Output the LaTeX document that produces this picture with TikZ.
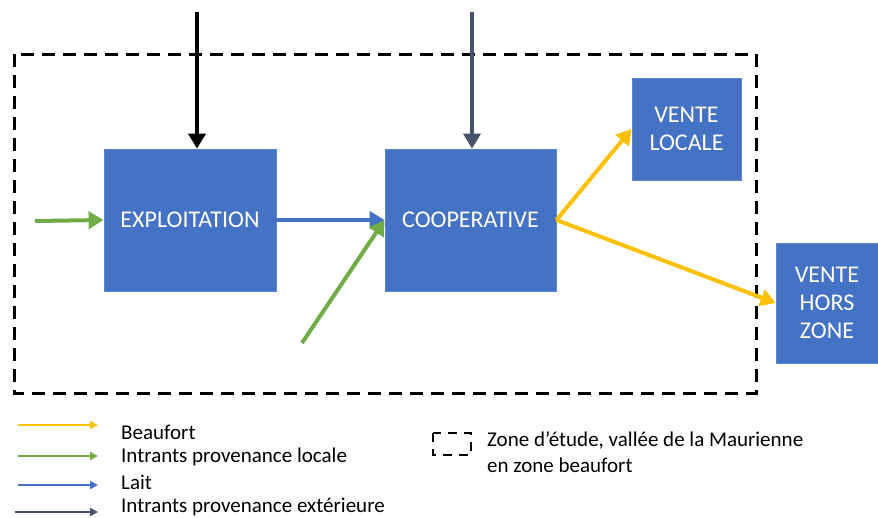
\documentclass[tikz,border=0pt]{standalone}
\usepackage{fontspec}
\setmainfont{Carlito}
\usetikzlibrary{arrows.meta}
\definecolor{boxblue}{HTML}{4472C4}
\definecolor{boxedge}{HTML}{5A85D0}
\definecolor{ygold}{HTML}{FFC000}
\definecolor{lgreen}{HTML}{70AD47}
\definecolor{slate}{HTML}{44546A}
\begin{document}
\begin{tikzpicture}[x=1pt,y=-1pt,
  box/.style={rectangle, fill=boxblue, draw=boxedge, line width=0.8pt, text=white,
    font=\fontsize{24}{28}\selectfont, align=center, inner sep=0pt},
  flow/.style={line width=4pt, -{Triangle[length=15pt,width=17pt]}},
  leg/.style={line width=2.4pt, -{Triangle[length=8pt,width=8pt]}},
  legtext/.style={anchor=west, font=\fontsize{21}{25}\selectfont, inner sep=0pt, align=left}]
\useasboundingbox (0,0) rectangle (878,517);
% study zone
\draw[dash pattern=on 13pt off 8pt, line width=3pt] (14,54) rectangle (756,393);
% boxes
\node[box, minimum width=172pt, minimum height=142pt] (expl) at (190,220) {EXPLOITATION};
\node[box, minimum width=171pt, minimum height=142pt] (coop) at (470.5,220) {COOPERATIVE};
\node[box, minimum width=109pt, minimum height=102pt] (vl) at (686.5,129) {VENTE\\LOCALE};
\node[box, minimum width=102pt, minimum height=120pt] (vhz) at (827,303) {VENTE\\HORS\\ZONE};
% flows
\coordinate (s1) at (197,12);
\coordinate (s2) at (472,12);
\coordinate (g1) at (35,221);
\coordinate (g2) at (302,343);
\draw[flow, black] (s1) -- (s1 |- expl.north);
\draw[flow, slate] (s2) -- (s2 |- coop.north);
\draw[flow, lgreen] (g1) -- (expl.west);
\draw[flow, boxblue] (expl.east) -- (coop.west);
\draw[flow, lgreen] (g2) -- (coop.west);
\draw[flow, ygold] (coop.east) -- (vl.west);
\draw[flow, ygold] (coop.east) -- (vhz.west);
% legend
\coordinate (la1) at (18,425); \coordinate (lb1) at (98,425);
\coordinate (la2) at (18,456); \coordinate (lb2) at (98,456);
\coordinate (la3) at (18,485); \coordinate (lb3) at (98,485);
\coordinate (la4) at (15,512); \coordinate (lb4) at (98,512);
\draw[leg, ygold] (la1) -- (lb1);
\draw[leg, lgreen] (la2) -- (lb2);
\draw[leg, boxblue] (la3) -- (lb3);
\draw[leg, slate] (la4) -- (lb4);
\node[legtext] (t1) at (121,432) {Beaufort};
\node[legtext] (t2) at (121,457) {Intrants provenance locale};
\node[legtext] (t3) at (121,482) {Lait};
\node[legtext] (t4) at (121,507) {Intrants provenance extérieure};
\draw[dash pattern=on 9pt off 7pt, line width=2.5pt] (433,433) rectangle (471,455);
\node[legtext] (t5) at (487,440) {Zone d’étude, vallée de la Maurienne};
\node[legtext] (t6) at (487,465) {en zone beaufort};
\end{tikzpicture}
\end{document}
